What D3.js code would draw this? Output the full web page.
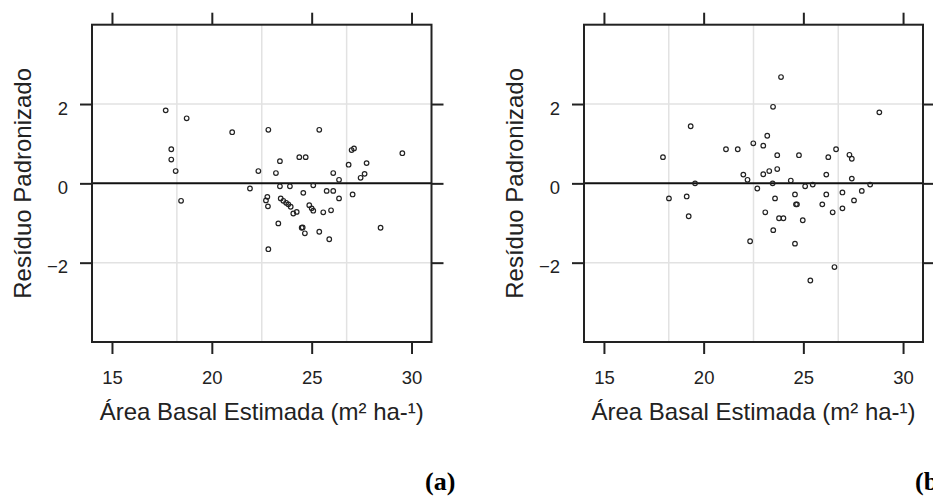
<!DOCTYPE html>
<html>
<head>
<meta charset="utf-8">
<script src="https://cdn.jsdelivr.net/npm/d3@7"></script>
<style>
  html, body { margin: 0; padding: 0; background: #fff; }
  svg { display: block; }
  .tick text { font-family: "Liberation Sans", Arial, sans-serif; fill: #222; }
</style>
</head>
<body>
<svg id="chart" width="933" height="497"></svg>
<script>
// Standardized residuals vs estimated basal area, two fitted models
const xTicks = [15, 20, 25, 30];
const yTicks = [-2, 0, 2];
const xGrid = [18.25, 22.5, 26.75];
const yGrid = [-2, 2];

const panelTags = ["(a)", "(b"];
const xTitle = "Área Basal Estimada (m² ha-¹)";
const yTitle = "Resíduo Padronizado";

// panel (a): estimated basal area
const basalA = [17.69, 18.74, 21.02, 22.83, 25.38, 17.97, 17.97, 18.19, 22.33, 27.0,
  27.12, 29.54, 23.41, 24.38, 24.7, 26.85, 27.75, 23.21, 26.08, 27.65,
  27.45, 26.37, 23.41, 23.91, 25.08, 25.75, 26.08, 24.58, 27.05, 22.71,
  22.78, 26.37, 23.45, 23.58, 23.72, 23.83, 23.95, 22.81, 24.88, 25.0,
  25.08, 24.08, 24.25, 25.58, 25.97, 23.33, 24.5, 24.55, 24.66, 25.38,
  25.88, 22.83, 28.45, 21.91, 18.46];
// panel (a): standardized residuals
const residA = [1.84, 1.64, 1.29, 1.35, 1.35, 0.86, 0.60, 0.31, 0.31, 0.84,
  0.88, 0.76, 0.56, 0.66, 0.66, 0.47, 0.51, 0.26, 0.26, 0.24,
  0.14, 0.09, -0.075, -0.075, -0.05, -0.19, -0.19, -0.24, -0.28, -0.43,
  -0.34, -0.38, -0.38, -0.44, -0.49, -0.53, -0.59, -0.58, -0.55, -0.63,
  -0.69, -0.76, -0.72, -0.73, -0.68, -1.01, -1.12, -1.11, -1.26, -1.22,
  -1.41, -1.66, -1.12, -0.13, -0.44];

// panel (b): estimated basal area
const basalB = [19.35, 17.96, 21.12, 21.71, 22.49, 21.99, 22.2, 23.88, 23.48, 28.81,
  23.19, 22.99, 23.69, 24.78, 26.25, 26.64, 27.31, 27.43, 22.99, 23.29,
  23.69, 26.15, 27.43, 24.37, 22.69, 25.09, 25.47, 28.35, 27.93, 24.58,
  26.15, 26.96, 27.54, 23.58, 24.63, 24.68, 25.95, 23.09, 26.47, 26.96,
  23.78, 24.0, 24.97, 23.49, 24.58, 26.56, 25.35, 22.33, 18.26, 19.15,
  19.25, 19.57, 23.46];
// panel (b): standardized residuals
const residB = [1.44, 0.66, 0.86, 0.86, 1.01, 0.22, 0.09, 2.68, 1.93, 1.79,
  1.2, 0.95, 0.71, 0.71, 0.66, 0.86, 0.72, 0.62, 0.23, 0.31,
  0.36, 0.22, 0.12, 0.07, -0.13, -0.075, -0.03, -0.03, -0.19, -0.28,
  -0.28, -0.23, -0.43, -0.38, -0.53, -0.53, -0.53, -0.73, -0.73, -0.63,
  -0.88, -0.88, -0.93, -1.18, -1.52, -2.11, -2.45, -1.46, -0.38, -0.33,
  -0.83, 0.0, 0.0];

const svg = d3.select("#chart");
const font = '"Liberation Sans", Arial, sans-serif';

const panels = [
  { left: 92, right: 431.5, x: basalA, y: residA, tag: panelTags[0], tagX: 425 },
  { left: 584, right: 923, x: basalB, y: residB, tag: panelTags[1], tagX: 915 }
];
const frameTop = 24.7, frameBottom = 342;
const tickLen = 12;

panels.forEach(p => {
  const x = d3.scaleLinear().domain([14, 31]).range([p.left, p.right]);
  const y = d3.scaleLinear().domain([-4, 4]).range([frameBottom, frameTop]);
  const g = svg.append("g");

  // light reference grid
  g.selectAll(".vg").data(xGrid).join("line")
    .attr("x1", d => x(d)).attr("x2", d => x(d))
    .attr("y1", frameTop).attr("y2", frameBottom)
    .attr("stroke", "#e2e2e2").attr("stroke-width", 1.5);
  g.selectAll(".hg").data(yGrid).join("line")
    .attr("x1", p.left).attr("x2", p.right)
    .attr("y1", d => y(d)).attr("y2", d => y(d))
    .attr("stroke", "#e2e2e2").attr("stroke-width", 1.5);

  // zero residual line
  g.append("line")
    .attr("x1", p.left).attr("x2", p.right)
    .attr("y1", y(0)).attr("y2", y(0))
    .attr("stroke", "#111").attr("stroke-width", 2);

  // axes with ticks on all four sides, labels on left and bottom
  const axB = g.append("g").attr("transform", `translate(0,${frameBottom})`)
    .call(d3.axisBottom(x).tickValues(xTicks).tickSize(tickLen).tickPadding(17).tickFormat(d3.format("d")));
  const axT = g.append("g").attr("transform", `translate(0,${frameTop})`)
    .call(d3.axisTop(x).tickValues(xTicks).tickSize(tickLen).tickFormat(""));
  const axL = g.append("g").attr("transform", `translate(${p.left},0)`)
    .call(d3.axisLeft(y).tickValues(yTicks).tickSize(tickLen).tickPadding(12).tickFormat(d3.format("d")));
  const axR = g.append("g").attr("transform", `translate(${p.right},0)`)
    .call(d3.axisRight(y).tickValues(yTicks).tickSize(tickLen).tickFormat(""));
  [axB, axT, axL, axR].forEach(a => {
    a.select(".domain").remove();
    a.selectAll(".tick line").attr("stroke", "#222").attr("stroke-width", 2);
    a.selectAll(".tick text").style("font-size", "18.5px").attr("font-family", font).attr("fill", "#222");
  });
  axL.selectAll(".tick text").attr("dy", "0.55em");

  // panel frame
  g.append("rect")
    .attr("x", p.left).attr("y", frameTop)
    .attr("width", p.right - p.left).attr("height", frameBottom - frameTop)
    .attr("fill", "none").attr("stroke", "#222").attr("stroke-width", 2);

  // residual points
  g.selectAll(".pt").data(d3.range(p.x.length)).join("circle")
    .attr("cx", i => x(p.x[i])).attr("cy", i => y(p.y[i]))
    .attr("r", 2.3)
    .attr("fill", "none").attr("stroke", "#222").attr("stroke-width", 1.2);

  // axis titles
  g.append("text")
    .attr("x", (p.left + p.right) / 2).attr("y", 420)
    .attr("text-anchor", "middle")
    .attr("font-family", font).attr("font-size", 24).attr("fill", "#222")
    .text(xTitle);
  g.append("text")
    .attr("transform", `translate(${p.left - 61},${(frameTop + frameBottom) / 2})rotate(-90)`)
    .attr("text-anchor", "middle")
    .attr("font-family", font).attr("font-size", 24).attr("fill", "#222")
    .text(yTitle);

  // panel tag
  g.append("text")
    .attr("x", p.tagX).attr("y", 490)
    .attr("font-family", '"Liberation Serif", "Times New Roman", serif')
    .attr("font-weight", "bold").attr("font-size", 26).attr("fill", "#000")
    .text(p.tag);
});
</script>
</body>
</html>
